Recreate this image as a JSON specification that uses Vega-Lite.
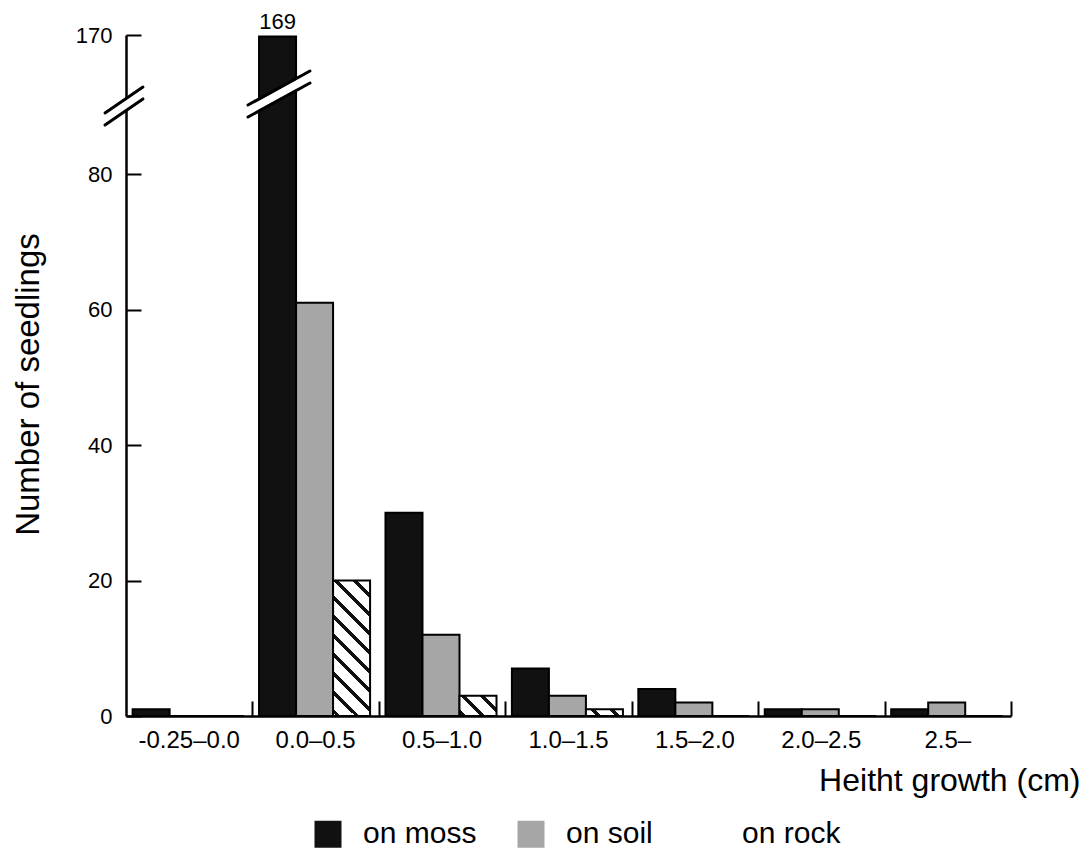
{
  "$schema": "https://vega.github.io/schema/vega-lite/v6.json",
  "width": 885,
  "height": 681,
  "autosize": {"type": "none"},
  "padding": {"left": 126, "top": 35, "right": 78, "bottom": 142},
  "background": "white",
  "config": {
    "view": {"stroke": null},
    "font": "Liberation Sans",
    "axis": {
      "grid": false,
      "labelColor": "black",
      "titleColor": "black",
      "domainColor": "black",
      "tickColor": "black",
      "labelFont": "Liberation Sans",
      "titleFont": "Liberation Sans",
      "titleFontWeight": "normal"
    },
    "legend": {
      "symbolOpacity": 1,
      "symbolStrokeColor": "black",
      "symbolStrokeWidth": 1.5,
      "symbolSize": 729,
      "labelFont": "Liberation Sans",
      "labelFontSize": 30,
      "labelColor": "black",
      "labelOffset": 20,
      "columnPadding": 37,
      "padding": 0
    }
  },
  "datasets": {
    "seedlings": [
      {"group": "-0.25–0.0", "substrate": "on moss", "count": 1},
      {"group": "-0.25–0.0", "substrate": "on soil", "count": 0},
      {"group": "-0.25–0.0", "substrate": "on rock", "count": 0},
      {"group": "0.0–0.5", "substrate": "on moss", "count": 169},
      {"group": "0.0–0.5", "substrate": "on soil", "count": 61},
      {"group": "0.0–0.5", "substrate": "on rock", "count": 20},
      {"group": "0.5–1.0", "substrate": "on moss", "count": 30},
      {"group": "0.5–1.0", "substrate": "on soil", "count": 12},
      {"group": "0.5–1.0", "substrate": "on rock", "count": 3},
      {"group": "1.0–1.5", "substrate": "on moss", "count": 7},
      {"group": "1.0–1.5", "substrate": "on soil", "count": 3},
      {"group": "1.0–1.5", "substrate": "on rock", "count": 1},
      {"group": "1.5–2.0", "substrate": "on moss", "count": 4},
      {"group": "1.5–2.0", "substrate": "on soil", "count": 2},
      {"group": "1.5–2.0", "substrate": "on rock", "count": 0},
      {"group": "2.0–2.5", "substrate": "on moss", "count": 1},
      {"group": "2.0–2.5", "substrate": "on soil", "count": 1},
      {"group": "2.0–2.5", "substrate": "on rock", "count": 0},
      {"group": "2.5–", "substrate": "on moss", "count": 1},
      {"group": "2.5–", "substrate": "on soil", "count": 2},
      {"group": "2.5–", "substrate": "on rock", "count": 0}
    ],
    "breaks": [
      {"x0": -0.166, "y0": 115.6, "x1": 0.134, "y1": 132.4, "edge": "gap"},
      {"x0": -0.166, "y0": 119.5, "x1": 0.134, "y1": 136.3, "edge": "line"},
      {"x0": -0.166, "y0": 111.7, "x1": 0.134, "y1": 128.6, "edge": "line"},
      {"x0": 0.965, "y0": 120.8, "x1": 1.455, "y1": 142.8, "edge": "gap"},
      {"x0": 0.965, "y0": 124.7, "x1": 1.455, "y1": 146.7, "edge": "line"},
      {"x0": 0.965, "y0": 116.9, "x1": 1.455, "y1": 138.9, "edge": "line"}
    ]
  },
  "layer": [
    {
      "data": {"name": "seedlings"},
      "layer": [
        {
          "mark": {"type": "bar", "stroke": "black", "strokeWidth": 2},
          "encoding": {
            "x": {
              "field": "group",
              "type": "ordinal",
              "scale": {
                "domain": ["-0.25–0.0", "0.0–0.5", "0.5–1.0", "1.0–1.5", "1.5–2.0", "2.0–2.5", "2.5–"],
                "paddingInner": 0,
                "paddingOuter": 0
              },
              "axis": {
                "orient": "bottom",
                "ticks": false,
                "domain": true,
                "domainWidth": 2.5,
                "labelAngle": 0,
                "labelFontSize": 24,
                "labelPadding": 31,
                "labelBaseline": "alphabetic",
                "labelDx": -4,
                "title": "Heitht growth (cm)",
                "titleFontSize": 32,
                "titleAlign": "right",
                "titleBaseline": "alphabetic",
                "titleX": 954,
                "titleY": 74
              }
            },
            "xOffset": {
              "field": "substrate",
              "type": "nominal",
              "scale": {
                "domain": ["on moss", "on soil", "on rock"],
                "paddingInner": 0,
                "paddingOuter": 0.208,
                "align": 0.43
              }
            },
            "y": {
              "field": "count",
              "type": "quantitative",
              "scale": {"domain": [0, 80, 170], "range": [681, 139, 0], "nice": false, "zero": false},
              "axis": {
                "values": [0, 20, 40, 60, 80, 170],
                "tickSize": -15,
                "tickWidth": 2,
                "domainWidth": 2.5,
                "labelFontSize": 22,
                "labelPadding": 29,
                "title": "Number of seedlings",
                "titleFontSize": 33,
                "titleAngle": -90,
                "titleAlign": "center",
                "titleBaseline": "alphabetic",
                "titleX": -88,
                "titleY": 349
              }
            },
            "stroke": {"value": "black"},
            "fill": {
              "field": "substrate",
              "type": "nominal",
              "scale": {
                "domain": ["on moss", "on soil", "on rock"],
                "range": ["#111111", "#a6a6a6", "#ffffff"]
              },
              "legend": {
                "title": null,
                "orient": "none",
                "legendX": 187,
                "legendY": 784,
                "direction": "horizontal",
                "symbolStrokeColor": "black"
              },
              "condition": [
                {
                  "test": "datum.substrate === 'on rock' && datum.count === 20",
                  "value": {
                    "gradient": "linear", "x1": 0, "y1": 1, "x2": 0.3235, "y2": -0.1847,
                    "stops": [
                      {"offset": 0, "color": "white"},
                      {"offset": 0.017, "color": "white"}, {"offset": 0.017, "color": "#111111"}, {"offset": 0.043, "color": "#111111"}, {"offset": 0.043, "color": "white"},
                      {"offset": 0.1271, "color": "white"}, {"offset": 0.1271, "color": "#111111"}, {"offset": 0.1531, "color": "#111111"}, {"offset": 0.1531, "color": "white"},
                      {"offset": 0.2372, "color": "white"}, {"offset": 0.2372, "color": "#111111"}, {"offset": 0.2632, "color": "#111111"}, {"offset": 0.2632, "color": "white"},
                      {"offset": 0.3473, "color": "white"}, {"offset": 0.3473, "color": "#111111"}, {"offset": 0.3733, "color": "#111111"}, {"offset": 0.3733, "color": "white"},
                      {"offset": 0.4574, "color": "white"}, {"offset": 0.4574, "color": "#111111"}, {"offset": 0.4834, "color": "#111111"}, {"offset": 0.4834, "color": "white"},
                      {"offset": 0.5675, "color": "white"}, {"offset": 0.5675, "color": "#111111"}, {"offset": 0.5935, "color": "#111111"}, {"offset": 0.5935, "color": "white"},
                      {"offset": 0.6776, "color": "white"}, {"offset": 0.6776, "color": "#111111"}, {"offset": 0.7036, "color": "#111111"}, {"offset": 0.7036, "color": "white"},
                      {"offset": 0.7877, "color": "white"}, {"offset": 0.7877, "color": "#111111"}, {"offset": 0.8137, "color": "#111111"}, {"offset": 0.8137, "color": "white"},
                      {"offset": 0.8978, "color": "white"}, {"offset": 0.8978, "color": "#111111"}, {"offset": 0.9238, "color": "#111111"}, {"offset": 0.9238, "color": "white"},
                      {"offset": 1, "color": "white"}
                    ]
                  }
                },
                {
                  "test": "datum.substrate === 'on rock' && datum.count === 3",
                  "value": {
                    "gradient": "linear", "x1": 0, "y1": 1, "x2": 1.19, "y2": 0.347,
                    "stops": [
                      {"offset": 0, "color": "white"},
                      {"offset": 0.041, "color": "white"}, {"offset": 0.041, "color": "#111111"}, {"offset": 0.119, "color": "#111111"}, {"offset": 0.119, "color": "white"},
                      {"offset": 0.371, "color": "white"}, {"offset": 0.371, "color": "#111111"}, {"offset": 0.449, "color": "#111111"}, {"offset": 0.449, "color": "white"},
                      {"offset": 0.701, "color": "white"}, {"offset": 0.701, "color": "#111111"}, {"offset": 0.779, "color": "#111111"}, {"offset": 0.779, "color": "white"},
                      {"offset": 1, "color": "white"}
                    ]
                  }
                },
                {
                  "test": "datum.substrate === 'on rock' && datum.count === 1",
                  "value": {
                    "gradient": "linear", "x1": 0, "y1": 1, "x2": 1.145, "y2": 0.7895,
                    "stops": [
                      {"offset": 0, "color": "white"},
                      {"offset": 0.249, "color": "white"}, {"offset": 0.249, "color": "#111111"}, {"offset": 0.351, "color": "#111111"}, {"offset": 0.351, "color": "white"},
                      {"offset": 0.683, "color": "white"}, {"offset": 0.683, "color": "#111111"}, {"offset": 0.785, "color": "#111111"}, {"offset": 0.785, "color": "white"},
                      {"offset": 1, "color": "white"}
                    ]
                  }
                }
              ]
            }
          }
        },
        {
          "mark": {"type": "point", "filled": true, "stroke": "black", "strokeWidth": 1.5, "opacity": 0, "size": 1},
          "encoding": {
            "x": {"field": "group", "type": "ordinal"},
            "xOffset": {"field": "substrate", "type": "nominal"},
            "y": {"field": "count", "type": "quantitative"},
            "stroke": {"value": "black"},
            "fill": {"field": "substrate", "type": "nominal"},
            "shape": {
              "field": "substrate",
              "type": "nominal",
              "scale": {
                "domain": ["on moss", "on soil", "on rock"],
                "range": ["square", "square", "M-1,-1H1V1H-1Z M-1,-1L1,1 M-1,0.1L-0.1,1"]
              },
              "legend": {
                "title": null,
                "orient": "none",
                "legendX": 187,
                "legendY": 784,
                "direction": "horizontal",
                "symbolStrokeColor": "black"
              }
            }
          }
        },
        {
          "transform": [{"filter": "datum.count > 100"}],
          "mark": {"type": "text", "fontSize": 22, "baseline": "alphabetic", "dy": -8, "color": "black"},
          "encoding": {
            "x": {"field": "group", "type": "ordinal"},
            "xOffset": {"field": "substrate", "type": "nominal"},
            "y": {"field": "count", "type": "quantitative"},
            "text": {"field": "count", "type": "quantitative"}
          }
        }
      ]
    },
    {
      "data": {"name": "breaks"},
      "layer": [
        {
          "transform": [{"filter": "datum.edge === 'gap'"}],
          "mark": {"type": "rule", "color": "white", "strokeWidth": 8},
          "encoding": {
            "x": {
              "field": "x0",
              "type": "quantitative",
              "scale": {"domain": [0, 7], "nice": false, "zero": false},
              "axis": {
                "orient": "bottom",
                "values": [1, 2, 3, 4, 5, 6, 7],
                "tickSize": -15,
                "tickWidth": 2,
                "labels": false,
                "domain": false,
                "title": null
              }
            },
            "x2": {"field": "x1"},
            "y": {
              "field": "y0",
              "type": "quantitative",
              "scale": {"domain": [0, 80, 170], "range": [681, 139, 0], "nice": false, "zero": false}
            },
            "y2": {"field": "y1"}
          }
        },
        {
          "transform": [{"filter": "datum.edge === 'line'"}],
          "mark": {"type": "rule", "color": "black", "strokeWidth": 3, "strokeCap": "round"},
          "encoding": {
            "x": {"field": "x0", "type": "quantitative"},
            "x2": {"field": "x1"},
            "y": {"field": "y0", "type": "quantitative"},
            "y2": {"field": "y1"}
          }
        }
      ]
    }
  ],
  "resolve": {"scale": {"x": "independent"}, "axis": {"x": "independent"}}
}
